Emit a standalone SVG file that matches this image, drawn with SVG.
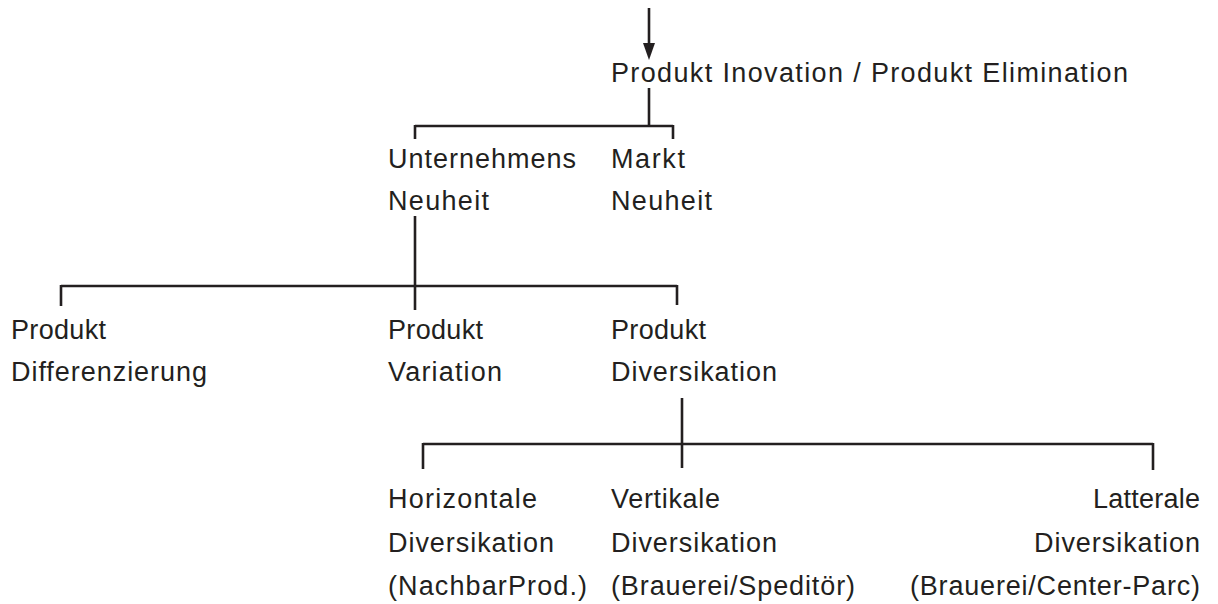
<svg xmlns="http://www.w3.org/2000/svg" width="1218" height="604" viewBox="0 0 1218 604">
<style>
text{font-family:"Liberation Sans",Arial,sans-serif;font-size:27px;fill:#231f20}
.r{text-anchor:end}
.c line{stroke:#231f20;stroke-width:2.6;fill:none}
</style>
<rect width="1218" height="604" fill="#fff"/>
<g id="connectors" class="c">
<line x1="649" y1="8" x2="649" y2="46"/>
<polygon points="643,43 655,43 649,60" fill="#231f20"/>
<line x1="649" y1="88" x2="649" y2="126"/>
<line x1="415" y1="126" x2="673" y2="126"/>
<line x1="415" y1="125" x2="415" y2="139"/>
<line x1="673" y1="125" x2="673" y2="139"/>
<line x1="415" y1="216" x2="415" y2="310"/>
<line x1="61" y1="286" x2="677" y2="286"/>
<line x1="61" y1="285" x2="61" y2="306"/>
<line x1="677" y1="285" x2="677" y2="305"/>
<line x1="682" y1="398" x2="682" y2="468"/>
<line x1="423" y1="444" x2="1153" y2="444"/>
<line x1="423" y1="443" x2="423" y2="469"/>
<line x1="1153" y1="443" x2="1153" y2="470"/>
</g>
<g id="root"><text x="611" y="82" textLength="517">Produkt Inovation / Produkt Elimination</text></g>
<g id="unternehmens"><text x="388" y="168" textLength="188">Unternehmens</text><text x="388" y="210" textLength="101">Neuheit</text></g>
<g id="markt"><text x="611" y="168" textLength="74">Markt</text><text x="611" y="210" textLength="101">Neuheit</text></g>
<g id="differenzierung"><text x="11" y="339" textLength="95">Produkt</text><text x="11" y="381" textLength="196">Differenzierung</text></g>
<g id="variation"><text x="388" y="339" textLength="95">Produkt</text><text x="388" y="381" textLength="114">Variation</text></g>
<g id="diversikation"><text x="611" y="339" textLength="95">Produkt</text><text x="611" y="381" textLength="166">Diversikation</text></g>
<g id="horizontal"><text x="388" y="508" textLength="149">Horizontale</text><text x="388" y="552" textLength="166">Diversikation</text><text x="388" y="595" textLength="199">(NachbarProd.)</text></g>
<g id="vertikal"><text x="611" y="508" textLength="109">Vertikale</text><text x="611" y="552" textLength="166">Diversikation</text><text x="611" y="595" textLength="244">(Brauerei/Speditör)</text></g>
<g id="latteral"><text class="r" x="1200" y="508" textLength="107">Latterale</text><text class="r" x="1200" y="552" textLength="166">Diversikation</text><text class="r" x="1200" y="595" textLength="290">(Brauerei/Center-Parc)</text></g>
</svg>
